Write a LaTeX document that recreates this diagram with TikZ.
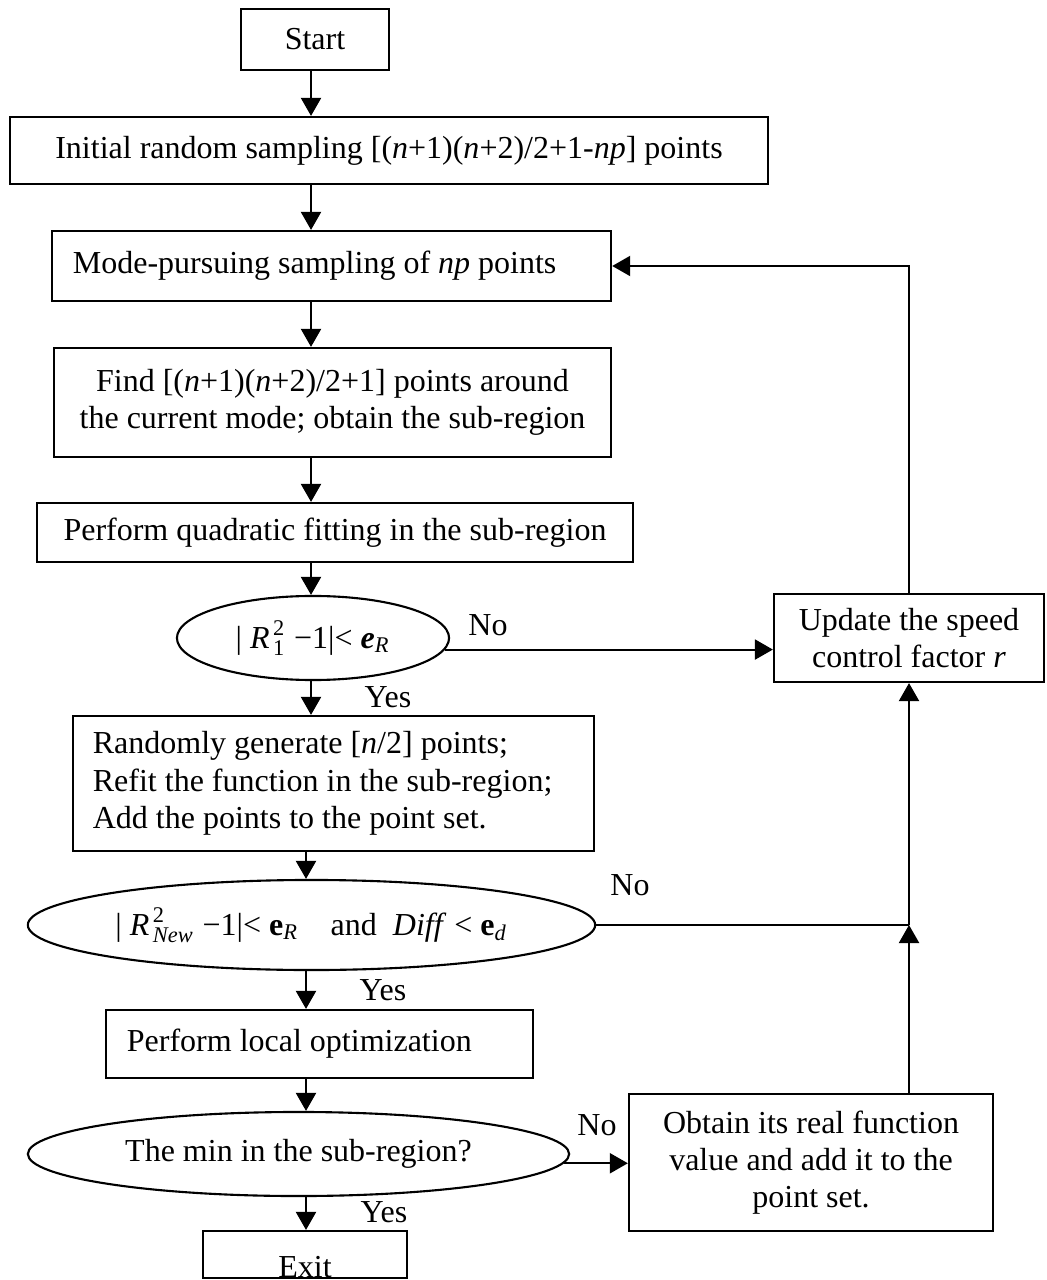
\documentclass[tikz,border=0pt]{standalone}
\usepackage{fontspec}
\setmainfont{Liberation Serif}
\usepackage{amsmath}
\usetikzlibrary{arrows.meta,shapes.geometric}
\def\epsR{\textbf{\textit{e}}$_{\textit{R}}$}
\def\epsRup{\textbf{e}$_{\textit{R}}$}
\def\epsDup{\textbf{e}$_{\textit{d}}$}
\def\Rsq#1{\textit{R}$\mkern2mu^{\text{2}}_{#1}$}

\begin{document}
\begin{tikzpicture}[x=0.01cm,y=-0.01cm,>={Triangle[length=1.8mm,width=2mm]},font=\fontsize{9.1}{10.6}\selectfont,line width=0.6pt,
    box/.style={draw,rectangle,inner sep=0pt},
    test/.style={draw,ellipse,inner sep=0pt},
    answer/.style={inner sep=0pt}]
    \useasboundingbox (0,0) rectangle (1046,1280);
    \coordinate (col) at (311,0);
    \coordinate (col2) at (306,0);

    % main column
    \node[box,minimum width=1.48cm,minimum height=0.61cm] (start) at (315,39.5) {Start};
    \node[box,minimum width=7.58cm,minimum height=0.67cm] (init) at (389,150.5) {Initial random sampling [(\textit{n}+1)(\textit{n}+2)/2+1-\textit{np}] points};
    \node[box,minimum height=0.7cm,text width=5.17cm,inner xsep=0.21cm,align=flush left] (mps) at (331.5,266) {Mode-pursuing sampling of \textit{np} points};
    \node[box,minimum width=5.57cm,minimum height=1.09cm,align=center] (find) at (332.5,402.5) {Find [(\textit{n}+1)(\textit{n}+2)/2+1] points around\\the current mode; obtain the sub-region};
    \node[box,minimum width=5.96cm,minimum height=0.59cm] (quad) at (335,532.5) {Perform quadratic fitting in the sub-region};
    \node[test,minimum width=2.72cm,minimum height=0.84cm] (test1) at (313,638) {| \Rsq{\text{1}} −1|< \epsR};
    \node[box,minimum height=1.35cm,text width=4.81cm,inner xsep=0.2cm,align=flush left] (refit) at (333.5,783.5) {Randomly generate [\textit{n}/2] points;\\Refit the function in the sub-region;\\Add the points to the point set.};
    \node[test,minimum width=5.67cm,minimum height=0.9cm] (test2) at (311.5,925) {| \Rsq{\textit{New}} −1|< \epsRup\quad and\ \ \textit{Diff} < \epsDup};
    \node[box,minimum height=0.68cm,text width=3.85cm,inner xsep=0.21cm,align=flush left] (local) at (319.5,1044) {Perform local optimization};
    \node[test,minimum width=5.41cm,minimum height=0.84cm] (test3) at (298.5,1154) {The min in the sub-region?};
    \node[box,minimum width=2.04cm,minimum height=0.47cm] (exit) at (305,1254.5) {\raisebox{-3.5pt}[6pt][0pt]{Exit}};

    % right column
    \node[box,minimum width=2.7cm,minimum height=0.88cm,align=center] (update) at (909,638) {Update the speed\\control factor \textit{r}};
    \node[box,minimum width=3.64cm,minimum height=1.37cm,align=center] (obtain) at (811,1162.5) {Obtain its real function\\value and add it to the\\point set.};
    \coordinate (join) at (test2.east -| update.south);

    \draw[->] (start.south -| col) -- (init.north -| col);
    \draw[->] (init.south -| col) -- (mps.north -| col);
    \draw[->] (mps.south -| col) -- (find.north -| col);
    \draw[->] (find.south -| col) -- (quad.north -| col);
    \draw[->] (quad.south -| col) -- (test1.north -| col);
    \draw[->] (test1.south -| col) -- (refit.north -| col);
    \draw[->] (refit.south -| col2) -- (test2.north -| col2);
    \draw[->] (test2.south -| col2) -- (local.north -| col2);
    \draw[->] (local.south -| col2) -- (test3.north -| col2);
    \draw[->] (test3.south -| col2) -- (exit.north -| col2);

    \draw[->] (test1.-5) -- (test1.-5 -| update.west);
    \draw (test2.east) -- (join);
    \draw[->] (obtain.north -| update.south) -- (join);
    \draw[->] (join) -- (update.south);
    \draw[->] (update.north) |- (mps.east);
    \draw[->] (test3.-2) -- (test3.-2 -| obtain.west);

    \node[answer] (no1) at (488,625) {No};
    \node[answer] (yes1) at (388,697) {Yes};
    \node[answer] (no2) at (630,885) {No};
    \node[answer] (yes2) at (383,990) {Yes};
    \node[answer] (no3) at (597,1125) {No};
    \node[answer] (yes3) at (384,1212) {Yes};
\end{tikzpicture}
\end{document}
